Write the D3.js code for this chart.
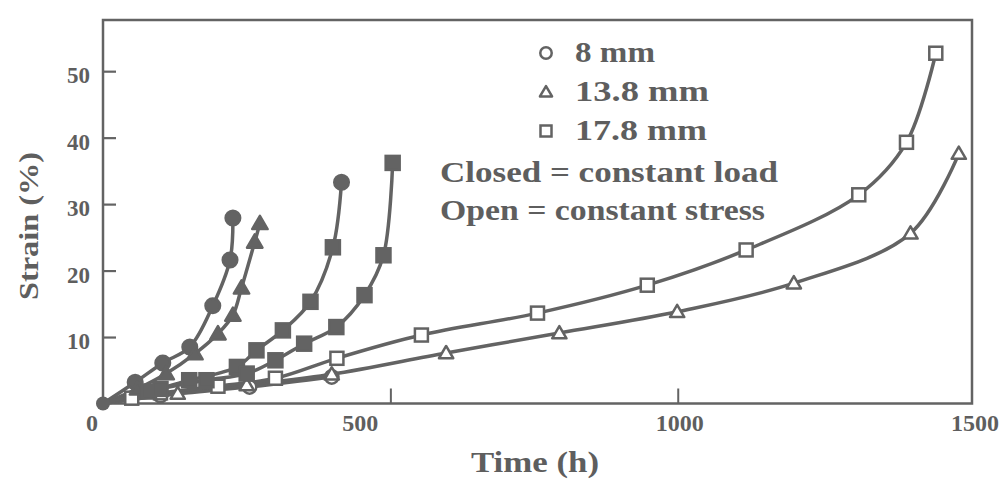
<!DOCTYPE html>
<html><head><meta charset="utf-8">
<script src="https://cdn.jsdelivr.net/npm/d3@7"></script>
<style>
body{margin:0;background:#fff;}
svg text{font-family:"Liberation Serif","DejaVu Serif",serif;fill:#5e5e5e;}
</style></head>
<body><svg id="c" width="1007" height="480"></svg>
<script>
// Time (h) and Strain (%) values
const closedCircleT = [0, 56, 104, 151, 191, 221, 226];
const closedCircleS = [0, 3.2, 6.1, 8.5, 14.7, 21.6, 27.9];
const closedTriT = [0, 60, 110, 160, 200, 226, 241, 264, 273];
const closedTriS = [0, 2.2, 4.5, 7.5, 10.5, 13.3, 17.4, 24.3, 27.1];
const closedMidT = [0, 80, 150, 233, 267, 313, 361, 400, 415];
const closedMidS = [0, 1.8, 3.5, 5.5, 8.0, 11.0, 15.3, 23.5, 33.3];
const closedMidSym = ["square","square","square","square","square","square","square","square","circle"];
const closedSqT = [0, 100, 180, 250, 300, 350, 406, 455, 488, 504];
const closedSqS = [0, 2.2, 3.5, 4.5, 6.5, 9.0, 11.5, 16.3, 22.3, 36.2];
const openCircleT = [0, 100, 255, 398];
const openCircleS = [0, 1.2, 2.5, 4.0];
const openTriT = [0, 130, 250, 398, 597, 794, 999, 1202, 1405, 1489];
const openTriS = [0, 1.5, 2.8, 4.4, 7.6, 10.6, 13.8, 18.1, 25.6, 37.6];
const openSqT = [0, 50, 100, 200, 300, 407, 554, 756, 947, 1119, 1315, 1398, 1449];
const openSqS = [0, 0.8, 1.6, 2.6, 3.8, 6.8, 10.3, 13.6, 17.8, 23.1, 31.4, 39.3, 52.7];
const xTicks = [0, 500, 1000, 1500];
const yTicks = [10, 20, 30, 40, 50];
const legendLabels = ["8 mm", "13.8 mm", "17.8 mm"];
const legendSymbols = ["circle", "triangle", "square"];
const noteLabels = ["Closed = constant load", "Open = constant stress"];

const svg = d3.select("#c");
const ink = "#636363";
const x = d3.scaleLinear().domain([0, 1512]).range([103, 972]);
const y = d3.scaleLinear().domain([0, 57.7]).range([403.5, 20]);

// frame
svg.append("rect").attr("x", 103).attr("y", 20).attr("width", 869).attr("height", 383.5)
  .attr("fill", "none").attr("stroke", ink).attr("stroke-width", 2.5);

// y axis ticks (inward)
const ya = svg.append("g").attr("transform", "translate(103,0)")
  .call(d3.axisRight(y).tickValues(yTicks).tickSize(13).tickFormat(""));
ya.select(".domain").remove();
ya.selectAll("line").attr("stroke", ink).attr("stroke-width", 2.2);
svg.append("g").selectAll("text").data(yTicks).join("text")
  .attr("x", 90).attr("y", d => y(d) + 12).attr("text-anchor", "end")
  .attr("font-size", 23).attr("font-weight", "bold").text(d => d);

// x axis ticks (inward)
const xa = svg.append("g").attr("transform", "translate(0,403.5)")
  .call(d3.axisTop(x).tickValues(xTicks.filter(d => d > 0 && d < 1500)).tickSize(15).tickFormat(""));
xa.select(".domain").remove();
xa.selectAll("line").attr("stroke", ink).attr("stroke-width", 2);
svg.append("g").selectAll("text").data(xTicks).join("text")
  .attr("x", d => x(d) + (d === 0 ? -11 : d === 500 ? -30 : d === 1500 ? 10 : 2))
  .attr("y", 431).attr("text-anchor", "middle")
  .attr("font-size", 24).attr("font-weight", "bold").text(d => d);

// axis titles
svg.append("text").attr("transform", "translate(38,226) rotate(-90)").attr("text-anchor", "middle")
  .attr("font-size", 27).attr("font-weight", "bold")
  .attr("textLength", 148).attr("lengthAdjust", "spacingAndGlyphs").text("Strain (%)");
svg.append("text").attr("x", 535).attr("y", 472).attr("text-anchor", "middle")
  .attr("font-size", 29).attr("font-weight", "bold")
  .attr("textLength", 128).attr("lengthAdjust", "spacingAndGlyphs").text("Time (h)");

const line = d3.line().x(d => x(d[0])).y(d => y(d[1])).curve(d3.curveCatmullRom.alpha(0.5));

function marker(g, sym, cx, cy, filled, s) {
  const fill = filled ? ink : "#fff";
  if (sym === "circle") {
    g.append("circle").attr("cx", cx).attr("cy", cy).attr("r", s * 0.52)
      .attr("fill", fill).attr("stroke", ink).attr("stroke-width", 2.5);
  } else if (sym === "square") {
    g.append("rect").attr("x", cx - s / 2).attr("y", cy - s / 2).attr("width", s).attr("height", s)
      .attr("fill", fill).attr("stroke", ink).attr("stroke-width", 2.5);
  } else {
    const h = s * 0.9;
    g.append("path").attr("d", `M${cx},${cy - h * 0.6}L${cx + s * 0.55},${cy + h * 0.45}L${cx - s * 0.55},${cy + h * 0.45}Z`)
      .attr("fill", fill).attr("stroke", ink).attr("stroke-width", 2.5).attr("stroke-linejoin", "round");
  }
}

const series = [
  {t: openCircleT, s: openCircleS, sym: openCircleT.map(() => "circle"), filled: false},
  {t: openTriT, s: openTriS, sym: openTriT.map(() => "triangle"), filled: false},
  {t: openSqT, s: openSqS, sym: openSqT.map(() => "square"), filled: false},
  {t: closedCircleT, s: closedCircleS, sym: closedCircleT.map(() => "circle"), filled: true},
  {t: closedTriT, s: closedTriS, sym: closedTriT.map(() => "triangle"), filled: true},
  {t: closedMidT, s: closedMidS, sym: closedMidSym, filled: true},
  {t: closedSqT, s: closedSqS, sym: closedSqT.map(() => "square"), filled: true}
];

series.forEach(se => {
  const pts = se.t.map((t, i) => [t, se.s[i]]);
  svg.append("path").attr("d", line(pts)).attr("fill", "none").attr("stroke", ink)
    .attr("stroke-width", 3.5).attr("stroke-linecap", "round");
});
series.forEach(se => {
  const g = svg.append("g");
  se.t.forEach((t, i) => {
    if (t === 0) return;
    marker(g, se.sym[i], x(t), y(se.s[i]), se.filled, se.filled ? 14 : 13);
  });
});
// origin dot
svg.append("circle").attr("cx", x(0)).attr("cy", y(0)).attr("r", 7).attr("fill", ink);

// legend
const lg = svg.append("g");
const legendLen = [80, 134, 132];
legendLabels.forEach((lab, i) => {
  const yy = 62 + i * 39;
  marker(lg, legendSymbols[i], 546, yy - 9, false, 11);
  lg.append("text").attr("x", 575).attr("y", yy).attr("font-size", 30)
    .attr("font-weight", "bold").attr("textLength", legendLen[i])
    .attr("lengthAdjust", "spacingAndGlyphs").text(lab);
});
noteLabels.forEach((lab, i) => {
  lg.append("text").attr("x", 440).attr("y", 182 + i * 38).attr("font-size", 30)
    .attr("font-weight", "bold").attr("textLength", i === 0 ? 338 : 325)
    .attr("lengthAdjust", "spacingAndGlyphs").text(lab);
});
</script></body></html>
